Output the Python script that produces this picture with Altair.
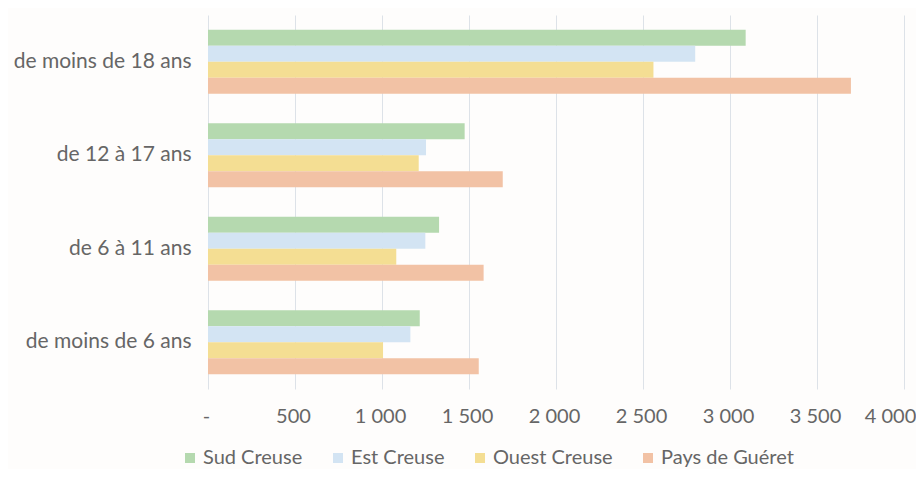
import altair as alt
import pandas as pd

categories = ["de moins de 18 ans", "de 12 à 17 ans", "de 6 à 11 ans", "de moins de 6 ans"]
series = ["Sud Creuse", "Est Creuse", "Ouest Creuse", "Pays de Guéret"]
sud = [3090, 1475, 1328, 1217]
est = [2800, 1253, 1249, 1163]
ouest = [2560, 1211, 1082, 1006]
gueret = [3695, 1694, 1584, 1556]
colors = ["#b5d9af", "#d3e4f3", "#f4de93", "#f2c2a5"]
tick_values = [0, 500, 1000, 1500, 2000, 2500, 3000, 3500, 4000]

rows = []
for s, vals in zip(series, [sud, est, ouest, gueret]):
    for c, v in zip(categories, vals):
        rows.append({"cat": c, "serie": s, "val": v})
df = pd.DataFrame(rows)

FONT = "Lato"
TXT = "#666666"

chart = alt.Chart(df).mark_bar().encode(
    y=alt.Y("cat:N", sort=categories, title=None,
            scale=alt.Scale(paddingInner=0.316, paddingOuter=0.158),
            axis=alt.Axis(domain=False, ticks=False, grid=False, labelFontSize=21,
                          labelColor=TXT, labelFont=FONT, labelPadding=17)),
    yOffset=alt.YOffset("serie:N", sort=series, scale=alt.Scale(paddingInner=0, paddingOuter=0)),
    x=alt.X("val:Q", title=None, scale=alt.Scale(domain=[0, 4000]),
            axis=alt.Axis(values=tick_values, grid=True, gridColor="#dde2e8", domain=False,
                          ticks=False, labelPadding=17, labelFontSize=20, labelColor=TXT,
                          labelFont=FONT, labelFlush=False, labelOverlap=False,
                          labelOffset={"condition": {"test": "datum.value == 4000", "value": -14},
                                       "value": -2},
                          labelExpr="datum.value == 0 ? '-' : replace(format(datum.value, ','), ',', ' ')")),
    color=alt.Color("serie:N", sort=series, scale=alt.Scale(domain=series, range=colors),
                    legend=alt.Legend(title=None, orient="none", legendX=-28, legendY=433,
                                      direction="horizontal", symbolType="square", symbolSize=100,
                                      symbolStrokeWidth=0, labelFontSize=20, labelColor=TXT,
                                      labelFont=FONT, labelOffset=3, columnPadding=25)),
).properties(
    width=696, height=374,
    autosize=alt.AutoSizeParams(type="none"),
    padding={"left": 200, "top": 7, "right": 12, "bottom": 80},
    background="#fefdfc",
).configure_view(stroke=None)

chart.save("out.html", embed_options={"renderer": "svg", "actions": False})
